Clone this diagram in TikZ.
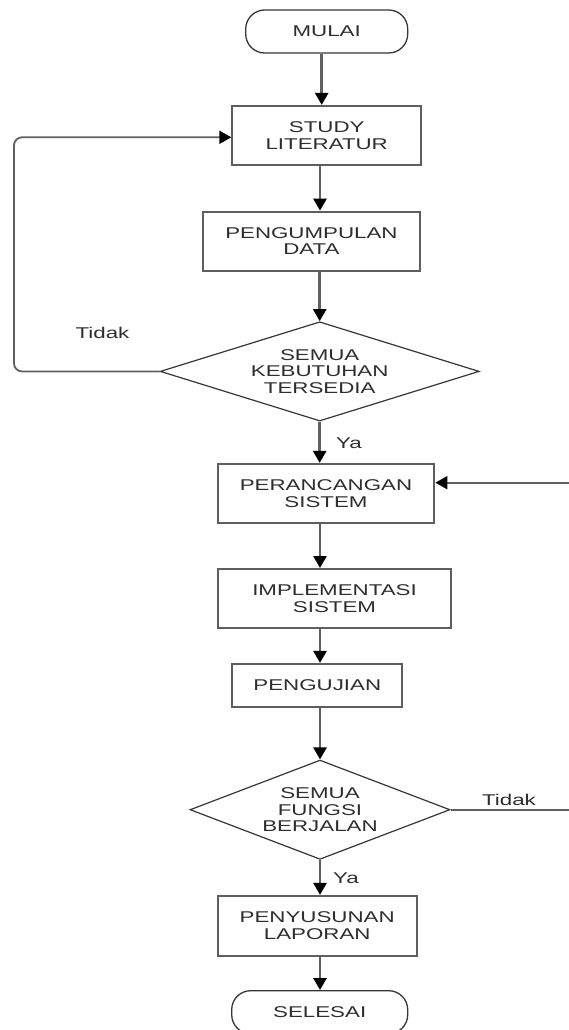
\documentclass[tikz,border=0pt]{standalone}
\usepackage{fontspec}
\setmainfont{Liberation Sans}[FakeStretch=1.43]
\usetikzlibrary{shapes.geometric,arrows.meta}
\definecolor{txt}{HTML}{2E2E2E}
\definecolor{boxline}{HTML}{5E5E5E}
\definecolor{conn}{HTML}{606060}
\definecolor{dline}{HTML}{363636}
\begin{document}
\begin{tikzpicture}[x=1pt,y=-1pt,
  every node/.style={text=txt,font=\fontsize{15.6}{16.7}\selectfont,align=center,inner sep=0pt},
  procbox/.style={draw=boxline,line width=2.1pt,rectangle},
  termbox/.style={draw=dline,line width=1.3pt,rectangle,rounded corners=19pt},
  decbox/.style={draw=dline,line width=1.2pt,diamond,aspect=3.2},
  arr/.style={draw=conn,line width=2.5pt,-{Triangle[length=12pt,width=13pt,color=black]}},
  loopline/.style={draw=conn,line width=1.8pt,rounded corners=8pt,-{Triangle[length=12pt,width=13pt,color=black]}},
  lbl/.style={text=txt}
]
\useasboundingbox (0,0) rectangle (568,1030);
\fill[white] (0,0) rectangle (568,1030);

\coordinate (spineA) at (321.7,0);
\coordinate (spineB) at (320,0);
\coordinate (loopL) at (14,0);
\coordinate (loopR) at (572,0);

\node[termbox,minimum width=162pt,minimum height=43pt] (mulai) at (326.7,31.5) {MULAI};
\node[procbox,minimum width=188.7pt,minimum height=59pt] (study) at (326.7,135.5) {STUDY\\LITERATUR};
\node[procbox,minimum width=217.3pt,minimum height=59pt] (kumpul) at (311.4,241.2) {PENGUMPULAN\\DATA};
\node[decbox,minimum width=319pt,minimum height=99.3pt] (dec1) at (319.7,371.4) {SEMUA\\KEBUTUHAN\\TERSEDIA};
\node[procbox,minimum width=216.6pt,minimum height=58.7pt] (rancang) at (326,493.3) {PERANCANGAN\\SISTEM};
\node[procbox,minimum width=232.4pt,minimum height=59.3pt] (impl) at (334.5,598.7) {IMPLEMENTASI\\SISTEM};
\node[procbox,minimum width=170pt,minimum height=42.7pt] (uji) at (317.3,685.3) {PENGUJIAN};
\node[decbox,minimum width=260pt,minimum height=99.3pt] (dec2) at (320,809.7) {SEMUA\\FUNGSI\\BERJALAN};
\node[procbox,minimum width=199pt,minimum height=59.7pt] (susun) at (317.2,925.8) {PENYUSUNAN\\LAPORAN};
\node[termbox,minimum width=176pt,minimum height=43pt] (selesai) at (319.7,1012.2) {SELESAI};

\draw[arr] (mulai.south -| spineA) -- (study.north -| spineA);
\draw[arr] (study.south -| spineB) -- (kumpul.north -| spineB);
\draw[arr] (kumpul.south -| dec1.north) -- (dec1.north);
\draw[arr] (dec1.south) -- (rancang.north -| dec1.south);
\draw[arr] (rancang.south -| spineB) -- (impl.north -| spineB);
\draw[arr] (impl.south -| spineB) -- (uji.north -| spineB);
\draw[arr] (uji.south -| dec2.north) -- (dec2.north);
\draw[arr] (dec2.south) -- (susun.north -| dec2.south);
\draw[arr] (susun.south -| spineB) -- (selesai.north -| spineB);

\draw[loopline] (dec1.west) -- (dec1.west -| loopL) |- ([yshift=-1.8pt]study.west);
\draw[loopline,rounded corners=0pt] (dec2.east) -- (dec2.east -| loopR) |- ([yshift=10.6pt]rancang.east);

\node[lbl] (tidak1) at (102.5,333) {Tidak};
\node[lbl] (tidak2) at (509,800) {Tidak};
\node[lbl] (ya1) at (349,443) {Ya};
\node[lbl] (ya2) at (346,878.5) {Ya};
\end{tikzpicture}
\end{document}
